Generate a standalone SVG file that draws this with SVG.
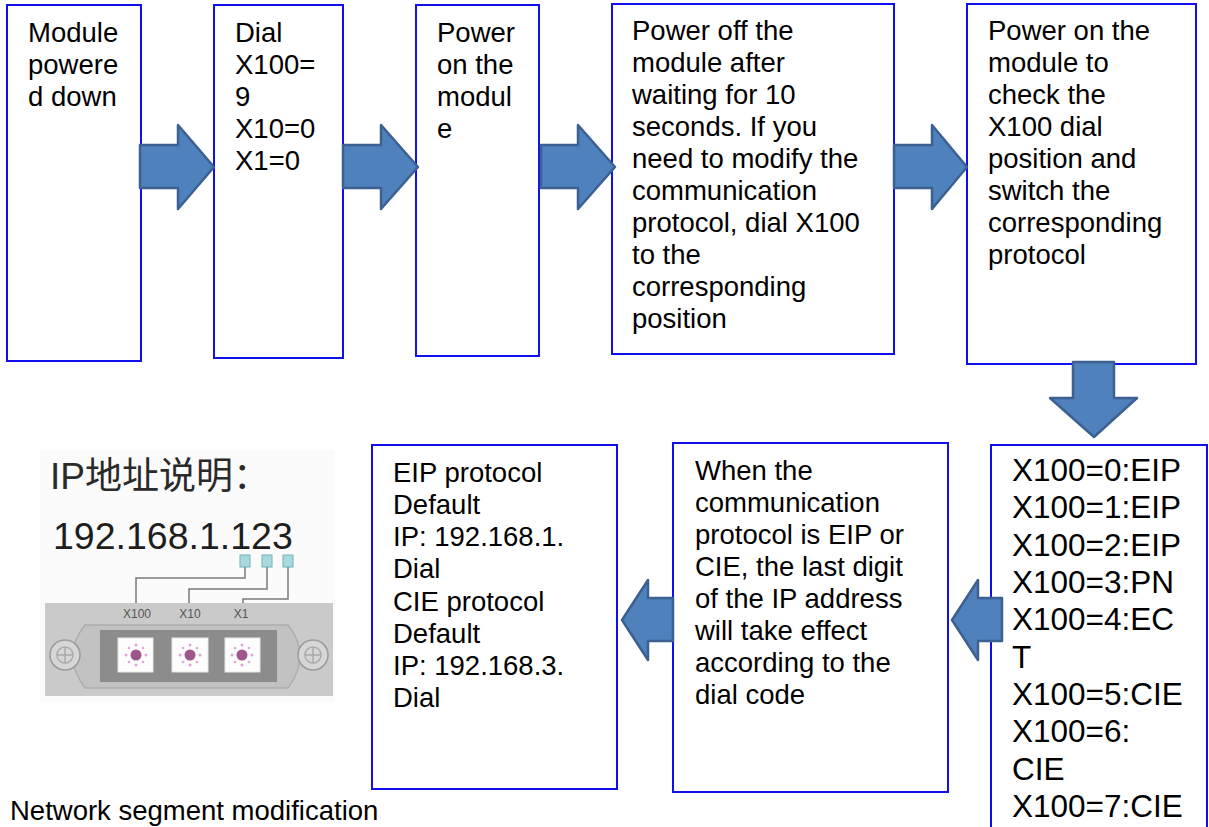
<svg xmlns="http://www.w3.org/2000/svg" width="1209" height="827" viewBox="0 0 1209 827">
<style>
.box{fill:#fff;stroke:#1010ee;stroke-width:2}
.t{font-family:"Liberation Sans",Arial,sans-serif;font-size:27.5px;fill:#000}
.t9{font-family:"Liberation Sans",Arial,sans-serif;font-size:31.5px;fill:#000}
.arr{fill:#4f81bd;stroke:#3b6091;stroke-width:2.5;stroke-linejoin:round}
.wire{fill:none;stroke:#7a7a7a;stroke-width:1.5}
.sq{fill:#a9d9dc;stroke:#6cb3b8;stroke-width:1}
.lbl{font-family:"Liberation Sans",Arial,sans-serif;font-size:12px;fill:#555}
.dial{fill:#fdfdfd;stroke:#e6e6e6;stroke-width:1}
.tick{fill:#e3a6d6}
.knob{fill:#a0558f}
</style>
<rect width="1209" height="827" fill="#fff"/>

<g id="n1"><rect class="box" x="7" y="5" width="134" height="356"/>
<text class="t" x="28" y="42">Module</text><text class="t" x="28" y="74">powere</text><text class="t" x="28" y="106">d down</text></g>

<g id="n2"><rect class="box" x="214" y="5" width="129" height="353"/>
<text class="t" x="235" y="42">Dial</text><text class="t" x="235" y="74">X100=</text><text class="t" x="235" y="106">9</text><text class="t" x="235" y="138">X10=0</text><text class="t" x="235" y="170">X1=0</text></g>

<g id="n3"><rect class="box" x="416" y="5" width="123" height="351"/>
<text class="t" x="437" y="42">Power</text><text class="t" x="437" y="74">on the</text><text class="t" x="437" y="106">modul</text><text class="t" x="437" y="138">e</text></g>

<g id="n4"><rect class="box" x="612" y="4" width="282" height="350"/>
<text class="t" x="632" y="40">Power off the</text><text class="t" x="632" y="72">module after</text><text class="t" x="632" y="104">waiting for 10</text><text class="t" x="632" y="136">seconds. If you</text><text class="t" x="632" y="168">need to modify the</text><text class="t" x="632" y="200">communication</text><text class="t" x="632" y="232">protocol, dial X100</text><text class="t" x="632" y="264">to the</text><text class="t" x="632" y="296">corresponding</text><text class="t" x="632" y="328">position</text></g>

<g id="n5"><rect class="box" x="967" y="4" width="229" height="360"/>
<text class="t" x="988" y="40">Power on the</text><text class="t" x="988" y="72">module to</text><text class="t" x="988" y="104">check the</text><text class="t" x="988" y="136">X100 dial</text><text class="t" x="988" y="168">position and</text><text class="t" x="988" y="200">switch the</text><text class="t" x="988" y="232">corresponding</text><text class="t" x="988" y="264">protocol</text></g>

<g id="n9"><rect class="box" x="991" y="445" width="216" height="400"/>
<text class="t9" x="1012" y="481">X100=0:EIP</text><text class="t9" x="1012" y="518">X100=1:EIP</text><text class="t9" x="1012" y="556">X100=2:EIP</text><text class="t9" x="1012" y="593">X100=3:PN</text><text class="t9" x="1012" y="630">X100=4:EC</text><text class="t9" x="1012" y="668">T</text><text class="t9" x="1012" y="705">X100=5:CIE</text><text class="t9" x="1012" y="742">X100=6:</text><text class="t9" x="1012" y="780">CIE</text><text class="t9" x="1012" y="817">X100=7:CIE</text></g>

<g id="n8"><rect class="box" x="673" y="443" width="275" height="349"/>
<text class="t" x="695" y="480">When the</text><text class="t" x="695" y="512">communication</text><text class="t" x="695" y="544">protocol is EIP or</text><text class="t" x="695" y="576">CIE, the last digit</text><text class="t" x="695" y="608">of the IP address</text><text class="t" x="695" y="640">will take effect</text><text class="t" x="695" y="672">according to the</text><text class="t" x="695" y="704">dial code</text></g>

<g id="n7"><rect class="box" x="372" y="445" width="245" height="344"/>
<text class="t" x="393" y="482">EIP protocol</text><text class="t" x="393" y="514">Default</text><text class="t" x="393" y="546">IP: 192.168.1.</text><text class="t" x="393" y="578">Dial</text><text class="t" x="393" y="611">CIE protocol</text><text class="t" x="393" y="643">Default</text><text class="t" x="393" y="675">IP: 192.168.3.</text><text class="t" x="393" y="707">Dial</text></g>

<g id="ipfig">
<rect x="40" y="450" width="295" height="252" fill="#fbfbfb"/>
<text x="50" y="489" font-family="'Liberation Sans','Noto Sans CJK SC',sans-serif" font-size="37" fill="#2a2a2a">IP地址说明：</text>
<text x="53" y="549" font-family="'Liberation Sans',Arial,sans-serif" font-size="37.5" fill="#1e1e1e">192.168.1.123</text>
<rect class="sq" x="240" y="555" width="10" height="12"/>
<rect class="sq" x="262" y="555" width="10" height="12"/>
<rect class="sq" x="283" y="555" width="10" height="12"/>
<path class="wire" d="M245 567V578H136V604M267 567V589H189V604M288 567V599H243V604"/>
<rect x="45" y="603" width="288" height="93" fill="#cacaca"/>
<text class="lbl" x="137" y="618" text-anchor="middle">X100</text>
<text class="lbl" x="190" y="618" text-anchor="middle">X10</text>
<text class="lbl" x="241" y="618" text-anchor="middle">X1</text>
<path d="M85 625H288Q300 640 300 656Q300 672 288 688H85Q73 672 73 656Q73 640 85 625Z" fill="#c2c2c2" stroke="#adadad" stroke-width="1.5"/>
<rect x="100" y="630" width="177" height="52" fill="#8c8c8c"/>
<g id="dials">
<rect class="dial" x="118" y="638" width="35" height="34"/>
<rect class="dial" x="172" y="638" width="36" height="34"/>
<rect class="dial" x="225" y="638" width="35" height="34"/>
<g class="tick">
<circle cx="136" cy="645" r="1.5"/><circle cx="136" cy="665" r="1.5"/><circle cx="126" cy="655" r="1.5"/><circle cx="146" cy="655" r="1.5"/><circle cx="129" cy="648" r="1.3"/><circle cx="143" cy="648" r="1.3"/><circle cx="129" cy="662" r="1.3"/><circle cx="143" cy="662" r="1.3"/>
<circle cx="190" cy="645" r="1.5"/><circle cx="190" cy="665" r="1.5"/><circle cx="180" cy="655" r="1.5"/><circle cx="200" cy="655" r="1.5"/><circle cx="183" cy="648" r="1.3"/><circle cx="197" cy="648" r="1.3"/><circle cx="183" cy="662" r="1.3"/><circle cx="197" cy="662" r="1.3"/>
<circle cx="242" cy="645" r="1.5"/><circle cx="242" cy="665" r="1.5"/><circle cx="232" cy="655" r="1.5"/><circle cx="252" cy="655" r="1.5"/><circle cx="235" cy="648" r="1.3"/><circle cx="249" cy="648" r="1.3"/><circle cx="235" cy="662" r="1.3"/><circle cx="249" cy="662" r="1.3"/>
</g>
<circle class="knob" cx="136" cy="655" r="5.5"/><circle class="knob" cx="190" cy="655" r="5.5"/><circle class="knob" cx="242" cy="655" r="5.5"/>
</g>
<g fill="#d6d6d6" stroke="#9a9a9a" stroke-width="1.5">
<circle cx="65" cy="655" r="15"/><circle cx="313" cy="655" r="15"/>
</g>
<g fill="none" stroke="#ababab" stroke-width="1.5">
<circle cx="65" cy="655" r="8"/><circle cx="313" cy="655" r="8"/>
<path d="M65 647V663M57 655H73M313 647V663M305 655H321"/>
</g>
</g>

<text id="note" class="t" x="10" y="820">Network segment modification</text>

<g id="connectors">
<path class="arr" d="M140 145H178V125L214 167L178 209V188H140Z"/>
<path class="arr" d="M343 145H381V125L418 167L381 209V188H343Z"/>
<path class="arr" d="M541 145H578V125L615 167L578 209V188H541Z"/>
<path class="arr" d="M894 145H932V125L967 167L932 209V188H894Z"/>
<path class="arr" d="M1073 362H1114V398H1137L1094 437L1050 398H1073Z"/>
<path class="arr" d="M1002 598H978V580L952 620L978 660V641H1002Z"/>
<path class="arr" d="M673 598H648V580L622 620L648 660V641H673Z"/>
</g>
</svg>
